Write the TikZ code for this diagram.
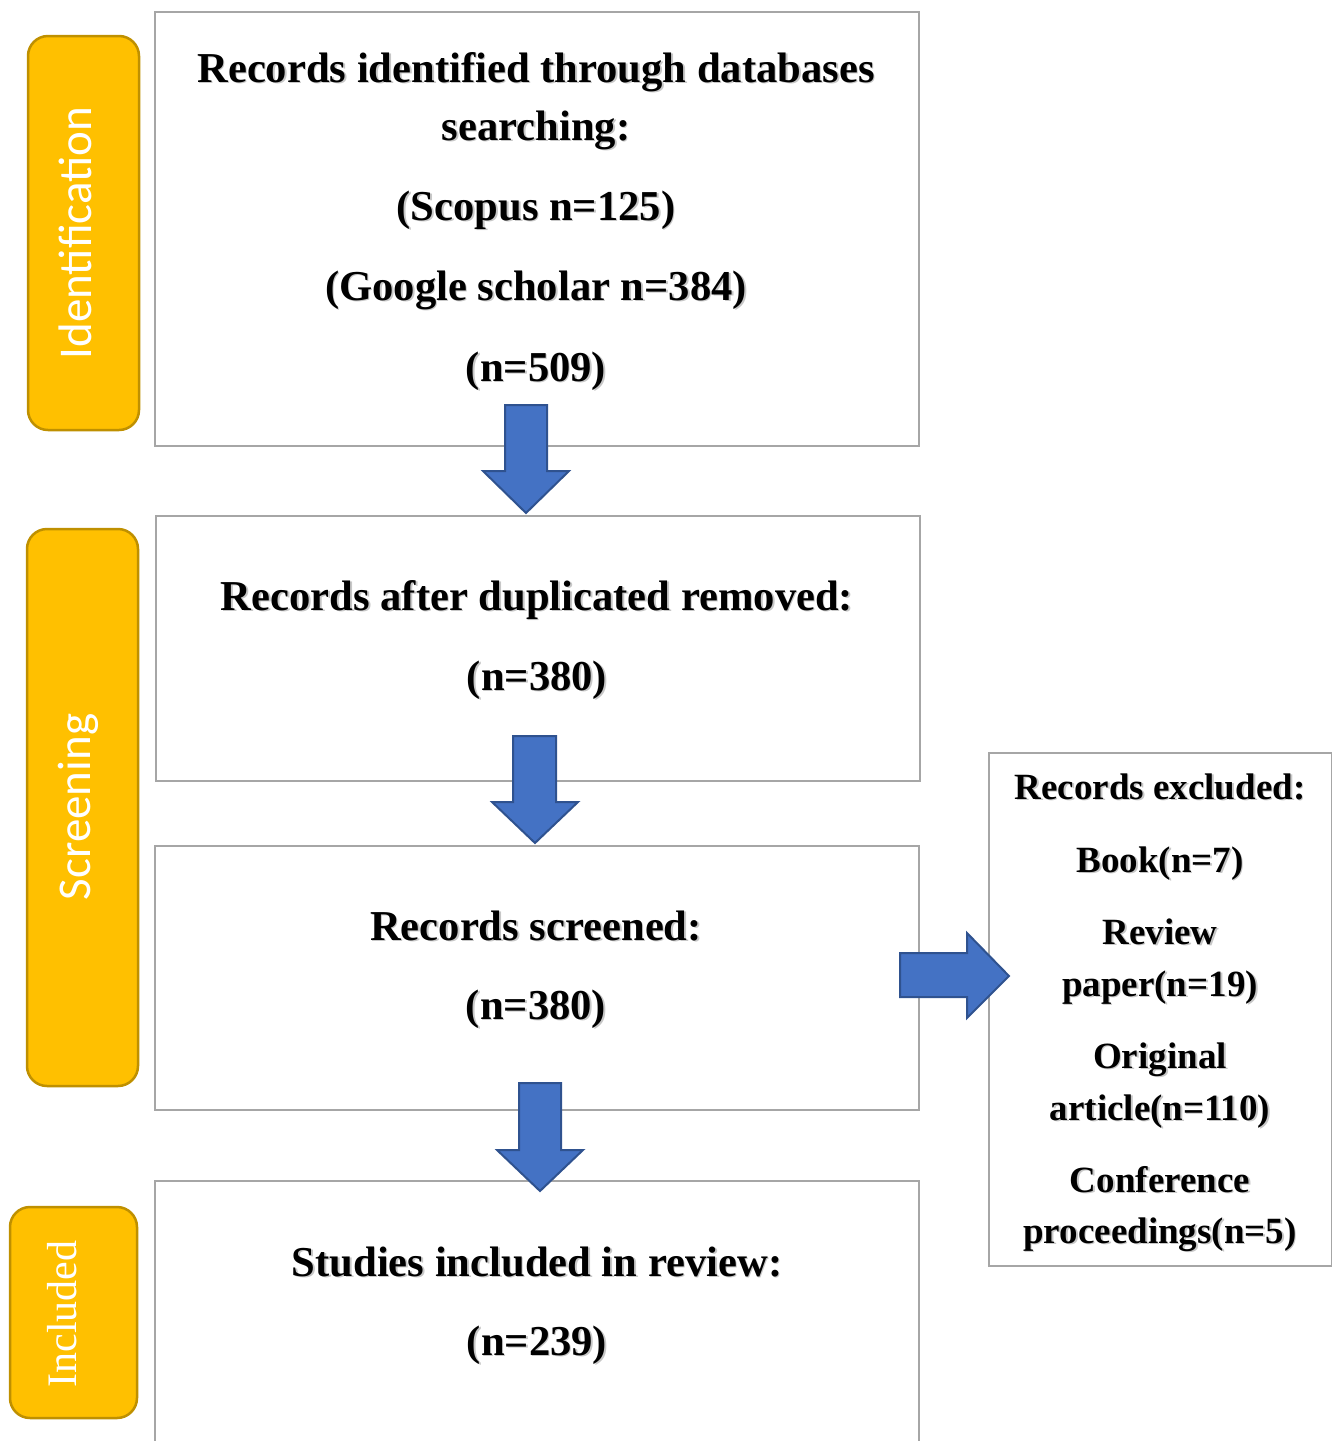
\documentclass[tikz,border=0pt]{standalone}
\usepackage{fontspec}
\setmainfont{Liberation Serif}
\newfontfamily\calibfont{Carlito}
\definecolor{boxgray}{HTML}{A6A6A6}
\definecolor{phasefill}{HTML}{FFC000}
\definecolor{phaseedge}{HTML}{BF9000}
\definecolor{arrowfill}{HTML}{4472C4}
\definecolor{arrowedge}{HTML}{2F528F}
\newcommand\shd[1]{\leavevmode\rlap{\kern1.6pt\raisebox{-1.6pt}{\color{black!22}#1}}#1}
\begin{document}
\begin{tikzpicture}[x=1pt,y=-1pt,
  box/.style={draw=boxgray, line width=2pt, inner sep=0pt, anchor=north west},
  phase/.style={draw=phaseedge, fill=phasefill, line width=2.5pt, rounded corners=20pt, inner sep=0pt},
  phasetext/.style={rotate=90, text=white, inner sep=0pt},
  blockarrow/.style={draw=arrowedge, fill=arrowfill, line width=2pt, line join=miter},
  mainline/.style={font=\fontsize{42.6}{50}\selectfont\bfseries, anchor=base, inner sep=0pt},
  sideline/.style={font=\fontsize{37}{44}\selectfont\bfseries, anchor=base, inner sep=0pt}]
\useasboundingbox (0,0) rectangle (1332,1441);

% phase labels
\node[phase, minimum width=111, minimum height=394] (pid) at (83.5,233) {};
\node[phase, minimum width=111, minimum height=557] (psc) at (82.5,807.5) {};
\node[phase, minimum width=127, minimum height=211] (pin) at (73.5,1312.5) {};
\node[phasetext, font=\calibfont\fontsize{47}{56}\selectfont] (lid) at (75,233) {Identification};
\node[phasetext, font=\calibfont\fontsize{47}{56}\selectfont] (lsc) at (78,807) {Screening};
\node[phasetext, font=\fontsize{42}{50}\selectfont] (lin) at (62,1314) {Included};

% boxes
\node[box, minimum width=764, minimum height=434] (b1) at (154,11) {};
\node[box, minimum width=764, minimum height=265] (b2) at (155,515) {};
\node[box, minimum width=764, minimum height=264] (b3) at (154,845) {};
\coordinate (b4sw) at (155,1450);
\coordinate (b4nw) at (155,1181);
\coordinate (b4ne) at (919,1181);
\coordinate (b4se) at (919,1450);
\draw[draw=boxgray, line width=2pt] (b4sw) -- (b4nw) -- (b4ne) -- (b4se);
\node[box, minimum width=343, minimum height=513] (bx) at (988,752) {};

% box 1 text
\node[mainline] (t11) at (536,82) {\shd{Records identified through databases}};
\node[mainline] (t12) at (536,140) {\shd{searching:}};
\node[mainline] (t13) at (536,220) {\shd{(Scopus n=125)}};
\node[mainline] (t14) at (536,300) {\shd{(Google scholar n=384)}};
\node[mainline] (t15) at (536,381) {\shd{(n=509)}};
% box 2 text
\node[mainline] (t21) at (537,610) {\shd{Records after duplicated removed:}};
\node[mainline] (t22) at (537,690) {\shd{(n=380)}};
% box 3 text
\node[mainline] (t31) at (536,940) {\shd{Records screened:}};
\node[mainline] (t32) at (536,1019) {\shd{(n=380)}};
% box 4 text
\node[mainline] (t41) at (537,1276) {\shd{Studies included in review:}};
\node[mainline] (t42) at (537,1355) {\shd{(n=239)}};
% excluded box text
\node[sideline] (x1) at (1160,799) {\shd{Records excluded:}};
\node[sideline] (x2) at (1160,872) {\shd{Book(n=7)}};
\node[sideline] (x3) at (1160,944) {\shd{Review}};
\node[sideline] (x4) at (1160,996) {\shd{paper(n=19)}};
\node[sideline] (x5) at (1160,1068) {\shd{Original}};
\node[sideline] (x6) at (1160,1120) {\shd{article(n=110)}};
\node[sideline] (x7) at (1160,1192) {\shd{Conference}};
\node[sideline] (x8) at (1160,1243) {\shd{proceedings(n=5)}};

% block arrows
\draw[blockarrow] (505,405) -- (547,405) -- (547,471) -- (569,471) -- (526,513) -- (483,471) -- (505,471) -- cycle;
\draw[blockarrow] (513,736) -- (556,736) -- (556,802) -- (578,802) -- (535,843) -- (492,802) -- (513,802) -- cycle;
\draw[blockarrow] (519,1083) -- (561,1083) -- (561,1150) -- (583,1150) -- (540,1191) -- (497,1150) -- (519,1150) -- cycle;
\draw[blockarrow] (900,953) -- (967,953) -- (967,933) -- (1009,976) -- (967,1018) -- (967,997) -- (900,997) -- cycle;
\end{tikzpicture}
\end{document}
